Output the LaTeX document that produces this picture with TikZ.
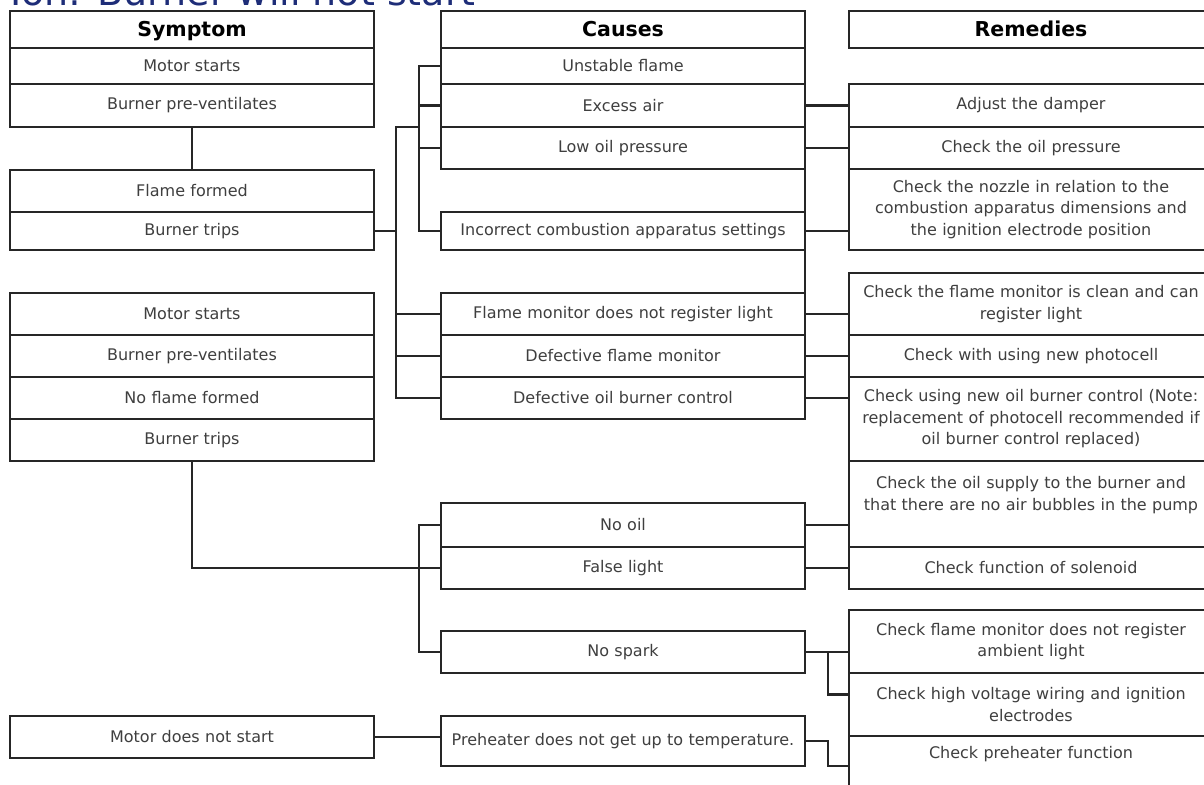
\documentclass[tikz,border=0pt]{standalone}
\usepackage{fontspec}
\setmainfont{DejaVu Sans}
\usetikzlibrary{positioning}

\definecolor{framegray}{HTML}{262626}
\definecolor{textgray}{HTML}{3F3F3F}
\definecolor{titleblue}{HTML}{1E2D78}

\tikzset{
  cell/.style={draw=framegray, line width=2.5pt, anchor=north west, outer sep=0pt,
    minimum width=364pt, inner xsep=4pt, inner ysep=0pt, text width=356pt, align=center,
    text=textgray, font=\fontsize{16}{21.5}\selectfont},
  headcell/.style={cell, text=black, text height=15pt, text depth=0pt,
    font=\fontsize{20.5}{24}\selectfont\bfseries},
  link/.style={draw=framegray, line width=2.5pt, line cap=rect},
  title/.style={text=titleblue, font=\fontsize{38}{40}\selectfont, inner sep=0pt},
}

\begin{document}
\begin{tikzpicture}[x=1pt, y=-1pt]
    \fill[white] (0,0) rectangle (1204,784);
    \useasboundingbox (0,0) rectangle (1204,784);

    % Title (cut at the top)
    \node[title, anchor=base west] (title) at (10,6) {Ion: Burner will not start};

    % Symptom column
    \node[headcell, minimum height=37pt] (s0) at (10,11) {Symptom};
    \node[cell, minimum height=36pt, below=0pt of s0] (s1) {Motor starts};
    \node[cell, minimum height=43pt, below=0pt of s1] (s2) {Burner pre-ventilates};
    \node[cell, minimum height=42pt] (s3) at (10,170) {Flame formed};
    \node[cell, minimum height=38pt, below=0pt of s3] (s4) {Burner trips};
    \node[cell, minimum height=42pt] (s5) at (10,293) {Motor starts};
    \node[cell, minimum height=42pt, below=0pt of s5] (s6) {Burner pre-ventilates};
    \node[cell, minimum height=42pt, below=0pt of s6] (s7) {No flame formed};
    \node[cell, minimum height=42pt, below=0pt of s7] (s8) {Burner trips};
    \node[cell, minimum height=42pt] (s9) at (10,716) {Motor does not start};

    % Causes column
    \node[headcell, minimum height=37pt] (c0) at (441,11) {Causes};
    \node[cell, minimum height=36pt, below=0pt of c0] (c1) {Unstable flame};
    \node[cell, minimum height=43pt, below=0pt of c1] (c2) {Excess air};
    \node[cell, minimum height=42pt, below=0pt of c2] (c3) {Low oil pressure};
    \node[cell, minimum height=38pt] (c4) at (441,212) {Incorrect combustion apparatus settings};
    \node[cell, minimum height=42pt] (c5) at (441,293) {Flame monitor does not register light};
    \node[cell, minimum height=42pt, below=0pt of c5] (c6) {Defective flame monitor};
    \node[cell, minimum height=42pt, below=0pt of c6] (c7) {Defective oil burner control};
    \node[cell, minimum height=44pt] (c8) at (441,503) {No oil};
    \node[cell, minimum height=42pt, below=0pt of c8] (c9) {False light};
    \node[cell, minimum height=42pt] (c10) at (441,631) {No spark};
    \node[cell, minimum height=50pt] (c11) at (441,716) {Preheater does not get up to temperature.};

    % Remedies column
    \node[headcell, minimum height=37pt] (r0) at (849,11) {Remedies};
    \node[cell, minimum height=43pt] (r1) at (849,84) {Adjust the damper};
    \node[cell, minimum height=42pt, below=0pt of r1] (r2) {Check the oil pressure};
    \node[cell, minimum height=81pt, below=0pt of r2] (r3) {Check the nozzle in relation to the\\combustion apparatus dimensions and\\the ignition electrode position};
    \node[cell, minimum height=62pt] (r4) at (849,273) {Check the flame monitor is clean and can\\register light};
    \node[cell, minimum height=42pt, below=0pt of r4] (r5) {Check with using new photocell};
    \node[cell, minimum height=84pt, below=0pt of r5] (r6) {Check using new oil burner control (Note:\\replacement of photocell recommended if\\oil burner control replaced)};
    \node[cell, minimum height=86pt, below=0pt of r6] (r7) {Check the oil supply to the burner and\\that there are no air bubbles in the pump\\\mbox{}};
    \node[cell, minimum height=42pt, below=0pt of r7] (r8) {Check function of solenoid};
    \node[cell, minimum height=63pt] (r9) at (849,610) {Check flame monitor does not register\\ambient light};
    \node[cell, minimum height=63pt, below=0pt of r9] (r10) {Check high voltage wiring and ignition\\electrodes};
    \node[cell, minimum height=54pt, below=0pt of r10] (r11) {Check preheater function\\\mbox{}};

    % Bus lines
    \coordinate (busA) at (396,0);
    \coordinate (busB) at (419,0);
    \coordinate (busC) at (828,0);

    % Right edge of causes between the boxes
    \draw[link] (c3.south east) -- (c4.north east);
    \draw[link] (c4.south east) -- (c5.north east);

    % Symptoms to causes
    \draw[link] (s2.south) -- (s3.north);
    \draw[link] (s4.east) -- (s4.east -| busA);
    \draw[link] (busA |- s2.south) -- (busA |- c7.west);
    \draw[link] (busA |- s2.south) -- (busB |- s2.south);
    \draw[link] (busB |- c1.west) -- (busB |- c4.west);
    \foreach \n in {c1,c2,c3,c4}
        \draw[link] (busB |- \n.west) -- (\n.west);
    \foreach \n in {c5,c6,c7}
        \draw[link] (busA |- \n.west) -- (\n.west);

    \draw[link] (s8.south) |- (busB |- c9.west);
    \draw[link] (busB |- c8.west) -- (busB |- c10.west);
    \foreach \n in {c8,c9,c10}
        \draw[link] (busB |- \n.west) -- (\n.west);
    \draw[link] (s9.east) -- (s9.east -| c11.west);

    % Causes to remedies
    \draw[link] (c2.east) -- (c2.east -| r1.west);
    \draw[link] (c3.east) -- (c3.east -| r2.west);
    \draw[link] (c4.east) -- (c4.east -| r3.west);
    \draw[link] (c5.east) -- (c5.east -| r4.west);
    \draw[link] (c6.east) -- (c6.east -| r5.west);
    \draw[link] (c7.east) -- (c7.east -| r6.west);
    \draw[link] (c8.east) -- (c8.east -| r7.west);
    \draw[link] (c9.east) -- (c9.east -| r8.west);
    \draw[link] (c10.east) -- (c10.east -| r9.west);
    \draw[link] (busC |- c10.east) |- ([yshift=10pt]r10.west);
    \draw[link] (c11.east) -- (c11.east -| busC) |- ([yshift=-3pt]r11.west);
\end{tikzpicture}
\end{document}
